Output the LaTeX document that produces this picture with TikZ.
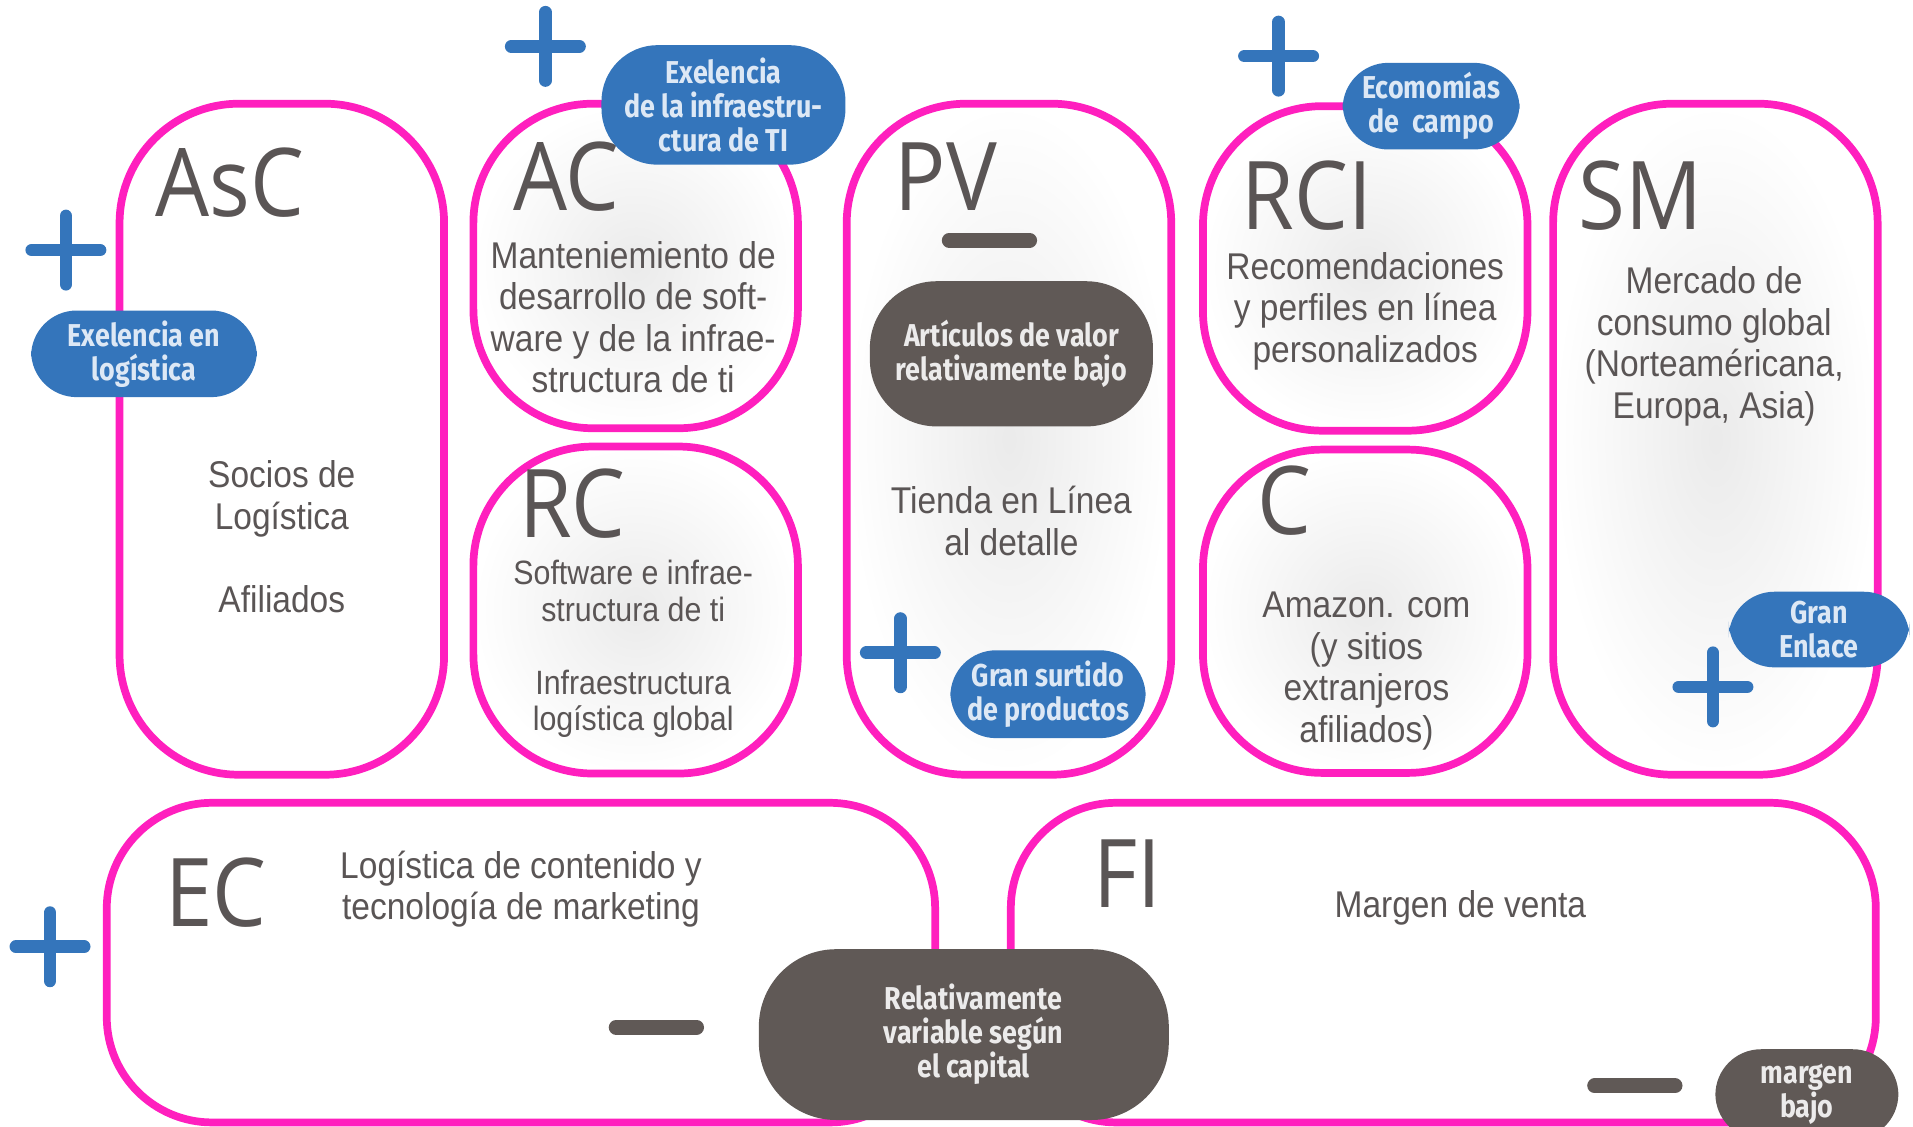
\documentclass[tikz,border=0pt]{standalone}
\usepackage{fontspec}
\setmainfont{Liberation Sans}[FakeStretch=0.9]
\newfontfamily\titlefont{Open Sans}[FakeStretch=0.9]
\newfontfamily\pillfont{Fira Sans}[FakeStretch=0.85]
\usetikzlibrary{positioning}

\definecolor{bmcpink}{HTML}{FF1FBE}
\definecolor{bmcblue}{HTML}{3475BB}
\definecolor{bmcdark}{HTML}{605956}
\definecolor{bmctext}{HTML}{5A5555}
\definecolor{bmcpale}{HTML}{DDE8F5}

\begin{document}
\begin{tikzpicture}[x=0.0122cm, y=-0.0122cm,
    cell/.style 2 args = {draw=bmcpink, line width=2.2pt, rounded corners=34pt, inner sep=0pt,
      minimum width=#1*0.0122cm, minimum height=#2*0.0122cm},
    shaded/.style = {inner color=black!8, outer color=white},
    plain/.style = {fill=white},
    title/.style = {font=\titlefont\fontsize{27}{27}\selectfont, text=bmctext, anchor=west, inner sep=0pt},
    body/.style = {font=\fontsize{10.6}{11.8}\selectfont, text=bmctext, align=center, inner sep=0pt},
    pill/.style 2 args = {rounded corners=13pt, align=center, inner sep=0pt,
      minimum width=#1*0.0122cm, minimum height=#2*0.0122cm,
      font=\pillfont\bfseries\fontsize{9}{9.7}\selectfont},
    good/.style = {fill=bmcblue, text=bmcpale},
    weak/.style = {fill=bmcdark, text=white!88!bmcdark},
    pics/plussign/.style = {code={\draw[bmcblue, line width=3.6pt, line cap=round] (-28,0) -- (28,0) (0,-28) -- (0,28);}},
    pics/minussign/.style = {code={\draw[bmcdark, line width=4.2pt, line cap=round] (-33,0) -- (33,0);}},
  ]
  \useasboundingbox (0,0) rectangle (1568,923);

  % building blocks
  \node [cell={266}{550}, plain] (asc) at (231,360) {};
  \node [cell={266}{266}, shaded] (ac) at (521,218) {};
  \node [cell={266}{268}, shaded] (rc) at (521,500) {};
  \node [cell={266}{550}, shaded] (pv) at (827,360) {};
  \node [cell={266}{266}, shaded] (rci) at (1119,220) {};
  \node [cell={266}{265}, shaded] (c) at (1119,501) {};
  \node [cell={266}{550}, shaded] (sm) at (1406,360) {};
  \node [cell={679}{262}, plain, rounded corners=30pt] (ec) at (427,789) {};
  \node [cell={709}{262}, plain, rounded corners=30pt] (fi) at (1183,789) {};

  % titles
  \node [title] (ascT) at (127,150) {AsC};
  \node [title] (acT) at (420,145) {AC};
  \node [title] (rcT) at (425,413) {RC};
  \node [title] (pvT) at (733,145) {PV};
  \node [title] (rciT) at (1017,160) {RCI};
  \node [title] (cT) at (1030,410) {C};
  \node [title] (smT) at (1293,160) {SM};
  \node [title] (ecT) at (135,732) {EC};
  \node [title] (fiT) at (896,716) {FI};

  % contents
  \node [body] (ascB) at (231,440) {Socios de\\Logística\\[11.8pt]Afiliados};
  \node [body] (acB) at (519,260) {Manteniemiento de\\desarrollo de soft-\\ware y de la infrae-\\structura de ti};
  \node [body, font=\fontsize{9.6}{10.4}\selectfont] (rcB) at (519,532) {Software e infrae-\\structura de ti\\[10.4pt]Infraestructura\\logística global};
  \node [body] (pvB) at (829,427) {Tienda en Línea\\al detalle};
  \node [body] (rciB) at (1119,255) {Recomendaciones\\y perfiles en línea\\personalizados};
  \node [body] (cB) at (1120,550) {Amazon. com\\(y sitios\\extranjeros\\afiliados)};
  \node [body] (smB) at (1405,284) {Mercado de\\consumo global\\(Norteaméricana,\\Europa, Asia)};
  \node [body] (ecB) at (427,729) {Logística de contenido y\\tecnología de marketing};
  \node [body] (fiB) at (1197,744) {Margen de venta};

  % strengths and weaknesses
  \node [pill={185}{71}, good] (logEx) at (118,290) {Exelencia en\\logística};
  \node [pill={200}{98}, good, rounded corners=16pt] (infraEx) at (593,86) {Exelencia\\de la infraestru-\\ctura de TI};
  \node [pill={145}{71}, good] (eco) at (1173,87) {Ecomomías\\de \ campo};
  \node [pill={232}{119}, weak, rounded corners=19pt] (lowVal) at (829,290) {Artículos de valor\\relativamente bajo};
  \node [pill={160}{72}, good] (surt) at (859,569) {Gran surtido\\de productos};
  \node [pill={148}{62}, good] (enl) at (1491,516) {Gran\\Enlace};
  \node [pill={336}{140}, weak, rounded corners=22pt] (capVar) at (790,848) {\hspace*{5.5pt}Relativamente\\\hspace*{5.5pt}variable según\\\hspace*{5.5pt}el capital};
  \node [pill={150}{74}, weak] (lowMar) at (1481,897) {margen\\bajo};

  \pic at (54,205) {plussign};
  \pic at (447,38) {plussign};
  \pic at (738,535) {plussign};
  \pic at (1048,46) {plussign};
  \pic at (1404,563) {plussign};
  \pic at (41,776) {plussign};
  \pic at (811,197) {minussign};
  \pic at (538,842) {minussign};
  \pic at (1340,890) {minussign};
\end{tikzpicture}
\end{document}
